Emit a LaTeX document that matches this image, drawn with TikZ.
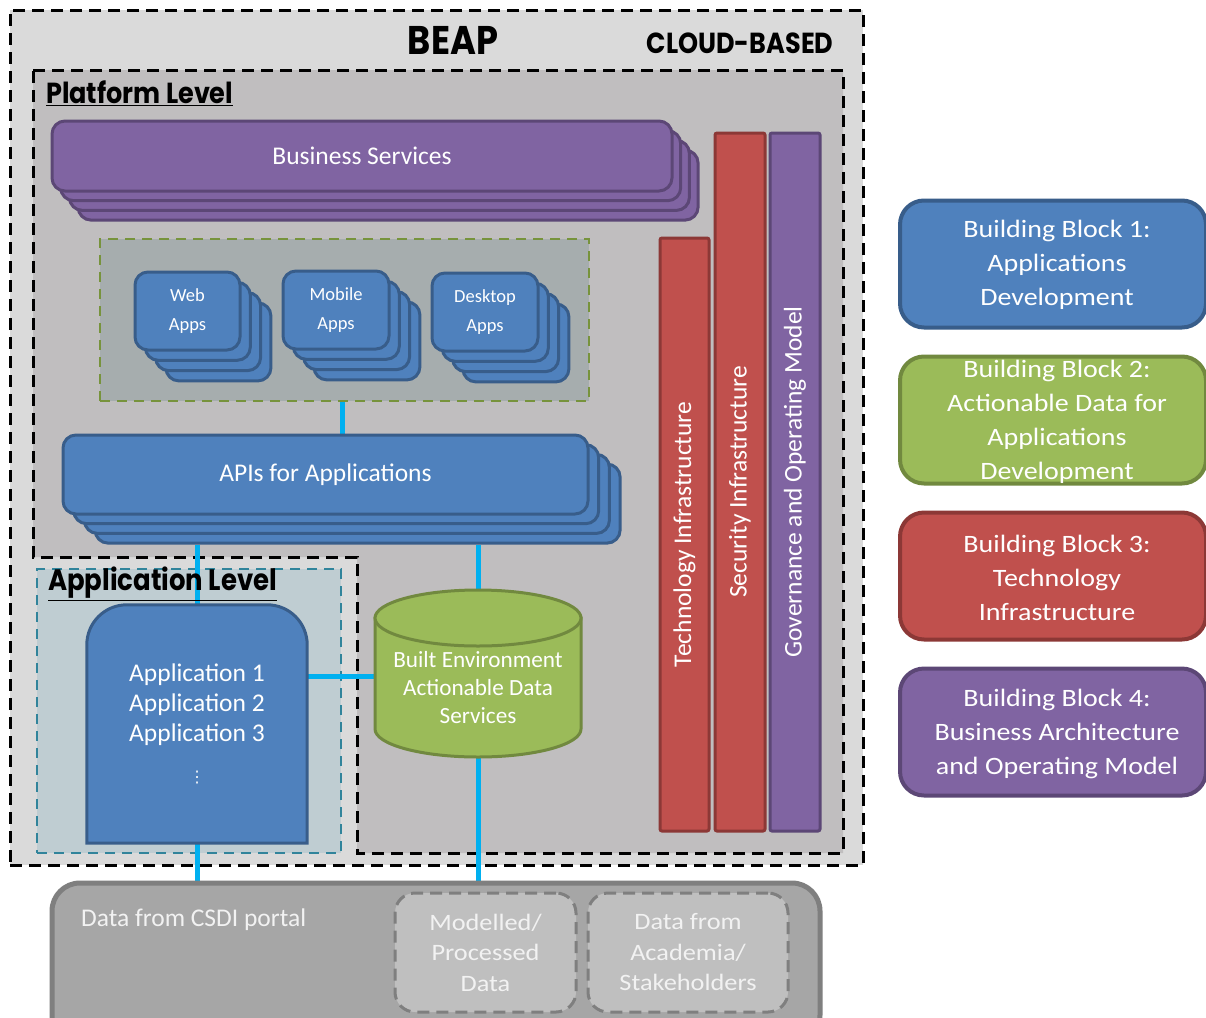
\documentclass[tikz,border=0pt]{standalone}
\usepackage{fontspec}
\setmainfont{Carlito}
\newfontfamily\widefont[FakeStretch=1.12]{Carlito}
\newfontfamily\titlefont[FakeStretch=0.88]{Poppins}
\newfontfamily\symfont{DejaVu Sans}
\definecolor{cbg}{HTML}{DADADA}
\definecolor{cplat}{HTML}{C0BEBF}
\definecolor{capps}{HTML}{A6ADAE}
\definecolor{capplvl}{HTML}{BFCDD2}
\definecolor{cteal}{HTML}{31849B}
\definecolor{cblue}{HTML}{4F81BD}
\definecolor{cblueD}{HTML}{385D8A}
\definecolor{cpurple}{HTML}{8064A2}
\definecolor{cpurpleD}{HTML}{5C4776}
\definecolor{cred}{HTML}{C0504D}
\definecolor{credD}{HTML}{8C3836}
\definecolor{cgreen}{HTML}{9BBB59}
\definecolor{cgreenD}{HTML}{71893F}
\definecolor{cgreenDash}{HTML}{77933C}
\definecolor{ccyan}{HTML}{00B0F0}
\definecolor{cdata}{HTML}{A6A6A6}
\definecolor{cdataD}{HTML}{7F7F7F}
\definecolor{cinner}{HTML}{BFBFBF}
\definecolor{ctxt}{HTML}{F2F2F2}
\pgfdeclarelayer{back}
\pgfdeclarelayer{wires}
\pgfsetlayers{back,wires,main}
\tikzset{
  blk/.style={draw, line width=3, inner sep=0, text=white, align=center},
  bluebox/.style={blk, fill=cblue, draw=cblueD, rounded corners=13},
  purplebox/.style={blk, fill=cpurple, draw=cpurpleD, rounded corners=13},
  redbar/.style={blk, fill=cred, draw=credD, rounded corners=2},
  purplebar/.style={blk, fill=cpurple, draw=cpurpleD, rounded corners=2},
  bigtxt/.style={font=\fontsize{25.5}{30}\selectfont},
  apptxt/.style={font=\fontsize{18.5}{29}\selectfont},
  bartxt/.style={rotate=90, text=white, inner sep=0, font=\fontsize{25.5}{30}\selectfont},
  frame/.style={draw=black, line width=3, dash pattern=on 12pt off 7pt},
  wire/.style={draw=ccyan, line width=5},
  bbbox/.style={draw, line width=4, rounded corners=24, inner sep=0, minimum width=306, minimum height=127},
  bbtxt/.style={text=white, align=center, inner sep=0, font=\widefont\fontsize{25}{34}\selectfont},
  title/.style={inner sep=0, font=\titlefont\bfseries\fontsize{#1}{#1}\selectfont},
  srcbox/.style={draw=cdataD, fill=cinner, line width=3, dash pattern=on 12pt off 7pt, rounded corners=20, inner sep=0,
    text=ctxt, align=center, font=\widefont\fontsize{23.5}{30.5}\selectfont},
}
\begin{document}
\begin{tikzpicture}[x=1pt,y=-1pt]
\useasboundingbox (0,0) rectangle (1206,1017);
\clip (0,0) rectangle (1206,1017);

% ---------- containers ----------
\begin{pgfonlayer}{back}
  \fill[white] (0,0) rectangle (1206,1017);
  \node[frame, fill=cbg, minimum width=853, minimum height=855, inner sep=0] (beap) at (436.5,437.5) {};
  \draw[frame, fill=cplat] (33,70) -- (843,70) -- (843,853) -- (357,853) -- (357,557) -- (33,557) -- cycle;
  \node[draw=cteal, fill=capplvl, line width=2.5, dash pattern=on 10pt off 7pt, inner sep=0,
        minimum width=304, minimum height=284] (applvl) at (189,711) {};
  \node[draw=cgreenDash, fill=capps, line width=2.5, dash pattern=on 10pt off 7pt, inner sep=0,
        minimum width=489, minimum height=162] (apps) at (344.5,320) {};
\end{pgfonlayer}

% ---------- titles ----------
\node[title=40] (beapt) at (453,40) {BEAP};
\node[title=29] (cloud) at (740,43) {CLOUD-BASED};
\node[title=29, anchor=west] (platt) at (46,93) {\underline{Platform Level}};
\node[title=29.5, anchor=west] (applt) at (48,584) {\underline{Application Level}};

% ---------- Business Services stack ----------
\foreach \k in {3,2,1}
  \node[purplebox, minimum width=620, minimum height=70] (bs-\k) at ({362+8.7*\k},{156+9.7*\k}) {};
\node[purplebox, bigtxt, minimum width=620, minimum height=70] (bs) at (362,156) {Business Services};

% ---------- application stacks ----------
\foreach \k in {3,2,1} {
  \node[bluebox, minimum width=105, minimum height=78] (web-\k) at ({187.5+10.3*\k},{311+10.3*\k}) {};
  \node[bluebox, minimum width=106, minimum height=78] (mob-\k) at ({336+10.3*\k},{310+10.3*\k}) {};
  \node[bluebox, minimum width=106, minimum height=78] (desk-\k) at ({485+10.3*\k},{312+10.3*\k}) {};
}
\node[bluebox, apptxt, minimum width=105, minimum height=78] (web) at (187.5,311) {Web\\Apps};
\node[bluebox, apptxt, minimum width=106, minimum height=78] (mob) at (336,310) {Mobile\\Apps};
\node[bluebox, apptxt, minimum width=106, minimum height=78] (desk) at (485,312) {Desktop\\Apps};

% ---------- APIs stack ----------
\foreach \k in {3,2,1}
  \node[bluebox, minimum width=525, minimum height=79] (api-\k) at ({325.5+10.7*\k},{474.5+9.7*\k}) {};
\node[bluebox, bigtxt, minimum width=525, minimum height=79] (api) at (325.5,474.5) {APIs for Applications};

% ---------- vertical bars ----------
\node[redbar, minimum width=49, minimum height=593] (tech) at (684.5,534.5) {};
\node[redbar, minimum width=50, minimum height=698] (sec) at (740,482) {};
\node[purplebar, minimum width=50, minimum height=698] (gov) at (795,482) {};
\node[bartxt] (techt) at (tech.center) {Technology Infrastructure};
\node[bartxt] (sect) at (sec.center) {Security Infrastructure};
\node[bartxt] (govt) at (gov.center) {Governance and Operating Model};

% ---------- applications box (rounded top) ----------
\node[inner sep=0, minimum width=220, minimum height=238] (app) at (197,724) {};
\draw[fill=cblue, draw=cblueD, line width=3]
  (app.south west) [rounded corners=40] -- (app.north west) -- (app.north east)
  [sharp corners] -- (app.south east) -- cycle;
\node[text=white, align=center, inner sep=0, font=\fontsize{25.5}{30}\selectfont] (appt) at (197,705)
  {Application 1\\Application 2\\Application 3};
\node[text=white, inner sep=0, font=\symfont\fontsize{16}{16}\selectfont] (dots) at (197,778) {⋮};

% ---------- data services cylinder ----------
\node[inner sep=0, minimum width=206, minimum height=167] (cyl) at (478,673.5) {};
\draw[fill=cgreen, draw=cgreenD, line width=3]
  (375,618) -- (375,729) arc[start angle=180, end angle=0, x radius=103, y radius=28] -- (581,618) -- cycle;
\draw[fill=cgreen, draw=cgreenD, line width=3] (478,618) ellipse [x radius=103, y radius=28];
\node[text=white, align=center, inner sep=0, font=\fontsize{23.2}{28}\selectfont] (cylt) at (478,688)
  {Built Environment\\Actionable Data\\Services};

% ---------- data sources ----------
\node[draw=cdataD, fill=cdata, line width=5, rounded corners=28, inner sep=0,
      minimum width=768, minimum height=160] (data) at (436,963) {};
\node[anchor=west, text=ctxt, inner sep=0, font=\fontsize{25.5}{30}\selectfont] (csdi) at (81,920) {Data from CSDI portal};
\node[srcbox, minimum width=181, minimum height=119] (model) at (485.5,952.5) {Modelled/\\Processed\\Data};
\node[srcbox, minimum width=200, minimum height=119] (acad) at (688,952.5) {Data from\\Academia/\\Stakeholders};

% ---------- connectors ----------
\coordinate (gx) at (342,0);
\coordinate (hy) at (0,676);
\begin{pgfonlayer}{wires}
  \draw[wire] (apps.south -| gx) -- (api.north -| gx);
  \draw[wire] (api-3.south -| app.north) -- (app.north);
  \draw[wire] (api-3.south -| cyl.north) -- (cyl.north);
  \draw[wire] (app.east |- hy) -- (cyl.west |- hy);
  \draw[wire] (app.south) -- (app.south |- data.north);
  \draw[wire] (cyl.south) -- (cyl.south |- data.north);
\end{pgfonlayer}

% ---------- building block legend ----------
\node[bbbox, fill=cblue, draw=cblueD] (bb1) at (1053,264) {};
\node[bbbox, fill=cgreen, draw=cgreenD] (bb2) at (1053,420) {};
\node[bbbox, fill=cred, draw=credD] (bb3) at (1053,576) {};
\node[bbbox, fill=cpurple, draw=cpurpleD] (bb4) at (1053,732) {};
\node[bbtxt] (bb1t) at (1057,265) {Building Block 1:\\Applications\\Development};
\node[bbtxt] (bb2t) at (1057,422) {Building Block 2:\\Actionable Data for\\Applications\\Development};
\node[bbtxt] (bb3t) at (1057,578) {Building Block 3:\\Technology\\Infrastructure};
\node[bbtxt] (bb4t) at (1057,734) {Building Block 4:\\Business Architecture\\and Operating Model};
\end{tikzpicture}
\end{document}
